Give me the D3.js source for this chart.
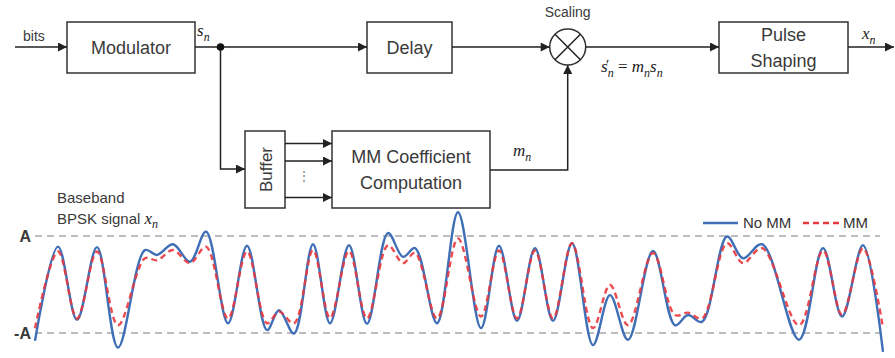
<!DOCTYPE html>
<html>
<head>
<meta charset="utf-8">
<script src="https://cdn.jsdelivr.net/npm/d3@7"></script>
<style>
  body { margin: 0; background: #fff; }
  svg { display: block; }
  .box { fill: #fff; stroke: #333; stroke-width: 1.5; }
  .wire { fill: none; stroke: #222; stroke-width: 1.5; }
  .lbl { font-family: "Liberation Sans", Arial, sans-serif; fill: #3a3a3a; }
  .math { font-family: "Liberation Serif", "DejaVu Serif", serif; font-style: italic; fill: #222; }
</style>
</head>
<body>
<svg id="chart" width="895" height="358"></svg>
<script>
// waveform knots: sample time and amplitude in units of A (extrema)
const sampleTimes = [0, 23, 42, 62, 83, 110, 122, 138, 155, 171, 193, 212, 232, 244, 259, 278, 295, 314, 332,
  353, 368, 380, 402, 423, 446, 464, 482, 500, 518, 537, 558, 575, 593, 618, 640, 653, 667, 692, 708, 727,
  764, 788, 807, 828, 848];
const noMM = [-1.16, 0.78, -0.73, 0.77, -1.30, 0.71, 0.61, 0.83, 0.47, 1.09, -0.80, 0.80, -0.94, -0.53, -1.01,
  0.83, -0.80, 0.81, -0.81, 1.06, 0.57, 0.75, -0.80, 1.49, -0.90, 0.80, -0.75, 0.75, -0.75, 0.85, -1.25,
  -0.22, -1.14, 0.69, -0.84, -0.63, -0.77, 0.99, 0.54, 0.83, -1.14, 0.75, -0.66, 0.81, -1.39];
const withMM = [-0.90, 0.68, -0.70, 0.68, -0.84, 0.54, 0.50, 0.71, 0.44, 0.78, -0.70, 0.68, -0.80, -0.56, -0.80,
  0.71, -0.69, 0.69, -0.70, 0.81, 0.44, 0.65, -0.70, 0.95, -0.66, 0.70, -0.70, 0.70, -0.70, 0.85, -0.90,
  -0.01, -0.84, 0.65, -0.63, -0.58, -0.70, 0.85, 0.44, 0.75, -0.84, 0.70, -0.62, 0.75, -0.90];
const levelValues = [1, -1];
const levelLabels = ["A", "-A"];
const seriesNames = ["No MM", "MM"];

const svg = d3.select("#chart");

// arrow head
svg.append("defs").append("marker")
  .attr("id", "arr")
  .attr("viewBox", "0 0 10 10")
  .attr("refX", 10).attr("refY", 5)
  .attr("markerWidth", 10).attr("markerHeight", 9)
  .attr("markerUnits", "userSpaceOnUse")
  .attr("orient", "auto")
  .append("path").attr("d", "M0,0 L10,5 L0,10 Z").attr("fill", "#222");

// ---------- block diagram ----------
const blocks = [
  { x: 67, y: 22, w: 128, h: 51, lines: ["Modulator"] },
  { x: 367, y: 22, w: 85, h: 51, lines: ["Delay"] },
  { x: 719, y: 22, w: 129, h: 51, lines: ["Pulse", "Shaping"] },
  { x: 332, y: 131, w: 158, h: 77, lines: ["MM Coefficient", "Computation"] }
];
blocks.forEach(b => {
  svg.append("rect").attr("class", "box")
    .attr("x", b.x).attr("y", b.y).attr("width", b.w).attr("height", b.h);
  const cy = b.y + b.h / 2, gap = 26;
  b.lines.forEach((t, i) => {
    svg.append("text").attr("class", "lbl")
      .attr("x", b.x + b.w / 2)
      .attr("y", cy + (i - (b.lines.length - 1) / 2) * gap)
      .attr("dy", "0.35em")
      .attr("text-anchor", "middle")
      .style("font-size", "18px")
      .text(t);
  });
});

// buffer (rotated label)
svg.append("rect").attr("class", "box").attr("x", 245).attr("y", 131).attr("width", 40).attr("height", 77);
svg.append("text").attr("class", "lbl")
  .attr("transform", "translate(266,169.5) rotate(-90)")
  .attr("text-anchor", "middle").attr("dy", "0.35em")
  .style("font-size", "17px").text("Buffer");
svg.append("text").attr("class", "lbl")
  .attr("x", 304).attr("y", 180).attr("text-anchor", "middle")
  .style("font-size", "12px").style("fill", "#777")
  .text("\u22EE");

// multiplier
const mx = 567.7, my = 47, mr = 18;
svg.append("circle").attr("class", "box").attr("cx", mx).attr("cy", my).attr("r", mr);
const d = mr * Math.SQRT1_2;
svg.append("path").attr("class", "wire")
  .attr("d", `M${mx - d},${my - d}L${mx + d},${my + d}M${mx - d},${my + d}L${mx + d},${my - d}`);
svg.append("text").attr("class", "lbl")
  .attr("x", mx).attr("y", 17).attr("text-anchor", "middle")
  .style("font-size", "14px").text("Scaling");

// wires
const wires = [
  "M15,47H67",
  "M195,47H367",
  "M452,47H549.7",
  "M585.7,47H719",
  "M848,47H894",
  "M220.5,47V169H245",
  "M285,143.5H332",
  "M285,161H332",
  "M285,197.5H332",
  `M490,170H${mx}V${my + mr}`
];
wires.forEach(p => svg.append("path").attr("class", "wire").attr("d", p).attr("marker-end", "url(#arr)"));
svg.append("circle").attr("cx", 220.5).attr("cy", 47).attr("r", 3.8).attr("fill", "#111");

svg.append("text").attr("class", "lbl").attr("x", 23).attr("y", 41).style("font-size", "14px").text("bits");

// math labels
function mathLabel(x, y, base, sub, size) {
  const t = svg.append("text").attr("class", "math").attr("x", x).attr("y", y).style("font-size", size + "px");
  t.append("tspan").text(base);
  t.append("tspan").attr("dy", size * 0.28).style("font-size", (size * 0.7) + "px").text(sub);
  return t;
}
mathLabel(197, 36, "s", "n", 17);
mathLabel(862, 39, "x", "n", 17);
mathLabel(513, 156, "m", "n", 17);
// s'_n = m_n s_n
const sp = svg.append("text").attr("class", "math").attr("x", 601).attr("y", 72).style("font-size", "17px");
sp.append("tspan").text("s");
sp.append("tspan").attr("dy", 5).style("font-size", "12px").text("n");
sp.append("tspan").attr("dy", -5).style("font-style", "normal").text(" = ");
sp.append("tspan").text("m");
sp.append("tspan").attr("dy", 5).style("font-size", "12px").text("n");
sp.append("tspan").attr("dy", -5).text("s");
sp.append("tspan").attr("dy", 5).style("font-size", "12px").text("n");
svg.append("text").attr("class", "math").attr("x", 606).attr("y", 70)
  .style("font-size", "15px").style("font-style", "normal").text("\u2032");

// ---------- waveform ----------
const x = d3.scaleLinear().domain([0, 848]).range([35, 883]);
const y = d3.scaleLinear().domain([-1, 1]).range([333, 236]);

// A / -A reference levels
svg.selectAll(".level").data(levelValues).enter().append("line")
  .attr("class", "level")
  .attr("x1", 35).attr("x2", 880)
  .attr("y1", v => y(v)).attr("y2", v => y(v))
  .attr("stroke", "#a8a8a8").attr("stroke-width", 1.5).attr("stroke-dasharray", "7,5");
svg.selectAll(".levelLbl").data(levelValues).enter().append("text")
  .attr("class", "lbl")
  .attr("x", 31).attr("y", v => y(v)).attr("dy", "0.36em")
  .attr("text-anchor", "end")
  .style("font-size", "16px").style("font-weight", "bold").style("fill", "#3a3a3a")
  .text((v, i) => levelLabels[i]);

svg.append("text").attr("class", "lbl").attr("x", 57).attr("y", 203).style("font-size", "15px").text("Baseband");
const bl = svg.append("text").attr("class", "lbl").attr("x", 57).attr("y", 224).style("font-size", "15px");
bl.append("tspan").text("BPSK signal ");
bl.append("tspan").attr("class", "math").style("font-size", "17px").text("x");
bl.append("tspan").attr("class", "math").attr("dy", 4).style("font-size", "12px").text("n");

const line = d3.line().x(dd => x(dd[0])).y(dd => y(dd[1])).curve(d3.curveCatmullRom.alpha(0.5));

svg.append("path")
  .datum(sampleTimes.map((t, i) => [t, noMM[i]]))
  .attr("fill", "none").attr("stroke", "#3f6fb6").attr("stroke-width", 2.4)
  .attr("d", line);
svg.append("path")
  .datum(sampleTimes.map((t, i) => [t, withMM[i]]))
  .attr("fill", "none").attr("stroke", "#e8393f").attr("stroke-width", 2.4)
  .attr("stroke-dasharray", "6,4").attr("opacity", 0.9)
  .attr("d", line);

// legend
const legend = svg.append("g").attr("transform", "translate(703,223)");
legend.append("line").attr("x1", 0).attr("x2", 35).attr("stroke", "#3f6fb6").attr("stroke-width", 2.4);
legend.append("text").attr("class", "lbl").attr("x", 40).attr("dy", "0.36em")
  .style("font-size", "15px").style("fill", "#333").text(seriesNames[0]);
legend.append("line").attr("x1", 100).attr("x2", 137).attr("stroke", "#e8393f").attr("stroke-width", 2.4)
  .attr("stroke-dasharray", "6,4");
legend.append("text").attr("class", "lbl").attr("x", 140).attr("dy", "0.36em")
  .style("font-size", "15px").style("fill", "#333").text(seriesNames[1]);
</script>
</body>
</html>
